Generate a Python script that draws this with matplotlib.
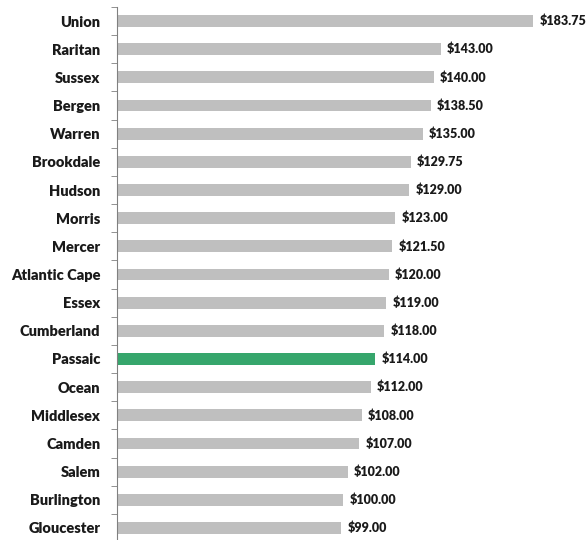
import matplotlib.pyplot as plt
import numpy as np

colleges = ["Union", "Raritan", "Sussex", "Bergen", "Warren", "Brookdale", "Hudson",
            "Morris", "Mercer", "Atlantic Cape", "Essex", "Cumberland", "Passaic",
            "Ocean", "Middlesex", "Camden", "Salem", "Burlington", "Gloucester"]
costs = [183.75, 143.00, 140.00, 138.50, 135.00, 129.75, 129.00, 123.00, 121.50,
         120.00, 119.00, 118.00, 114.00, 112.00, 108.00, 107.00, 102.00, 100.00, 99.00]
highlight = "Passaic"

plt.rcParams['font.family'] = ['Lato', 'DejaVu Sans']

fig = plt.figure(figsize=(5.87, 5.40), dpi=100)
ax = fig.add_axes([117 / 587, -2 / 540, 470 / 587, 535 / 540])

y = np.arange(len(colleges))
colors = ['#36A66C' if c == highlight else '#BFBFBF' for c in colleges]
ax.barh(y, costs, height=0.42, color=colors)

for yi, v in zip(y, costs):
    ax.annotate(f"${v:,.2f}", (v, yi), xytext=(4.5, 0), textcoords='offset points',
                va='center', ha='left', fontsize=9, fontweight='heavy', color='#1a1a1a')

ax.set_ylim(len(colleges) - 0.5, -0.5)
ax.set_xlim(0, 470 / 2.264)
ax.set_yticks(y)
ax.set_yticklabels(colleges, fontsize=10.5, fontweight='heavy', color='#1a1a1a')
ax.set_yticks(np.arange(-0.5, len(colleges)), minor=True)
ax.tick_params(axis='y', which='major', length=0, pad=12)
ax.tick_params(axis='y', which='minor', length=4, color='#808080')
ax.set_xticks([])
for s in ['top', 'right', 'bottom']:
    ax.spines[s].set_visible(False)
ax.spines['left'].set_color('#808080')

fig.savefig('out.png', dpi=100)
